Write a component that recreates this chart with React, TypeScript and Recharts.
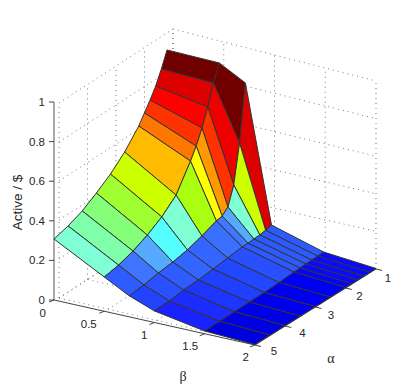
import { Scatter, ScatterChart, XAxis, YAxis } from 'recharts';

// ---------------------------------------------------------------------------
// Data
// ---------------------------------------------------------------------------

const ALPHA = [5, 4.5, 4, 3.5, 3, 2.5, 2, 1.8, 1.6, 1.4, 1.2, 1];
const BETA = [0, 0.5, 0.75, 1, 1.5, 2];

const Z_BETA_0 = [0.308, 0.327, 0.356, 0.4, 0.449, 0.514, 0.599, 0.647, 0.694, 0.747, 0.815, 0.893];
const Z_BETA_05 = [0.174, 0.187, 0.211, 0.245, 0.29, 0.354, 0.481, 0.539, 0.613, 0.702, 0.807, 0.891];
const Z_BETA_075 = [0.107, 0.115, 0.128, 0.136, 0.15, 0.174, 0.203, 0.209, 0.236, 0.331, 0.529, 0.82];
const Z_BETA_1 = [0.059, 0.062, 0.07, 0.073, 0.081, 0.089, 0.098, 0.098, 0.1, 0.102, 0.106, 0.114];
const Z_BETA_15 = [0.014, 0.016, 0.016, 0.017, 0.018, 0.02, 0.026, 0.027, 0.028, 0.029, 0.03, 0.031];
const Z_BETA_2 = [0.002, 0.002, 0.002, 0.002, 0.002, 0.002, 0.002, 0.002, 0.002, 0.002, 0.002, 0.003];
const Z_ROWS = [Z_BETA_0, Z_BETA_05, Z_BETA_075, Z_BETA_1, Z_BETA_15, Z_BETA_2];

const ALPHA_TICKS = [5, 4, 3, 2, 1];
const BETA_TICKS = [0, 0.5, 1, 1.5, 2];
const Z_TICKS = [0, 0.2, 0.4, 0.6, 0.8, 1];

// flat face colours, one strip per beta interval, alpha 5 -> 1
const FACES_0 = ['#7fffd4', '#7fffaa', '#85ff7a', '#a0ff30', '#ccff00', '#ffbb00', '#ff7700', '#ff3300', '#ff0000', '#dd0000', '#700000'];
const FACES_1 = ['#2f5cff', '#3f74ff', '#55aaff', '#55ffff', '#7fffd4', '#aaff11', '#ffff00', '#ff9900', '#ff3300', '#ee0000', '#700000'];
const FACES_2 = ['#2244ff', '#2a50ff', '#2f5cff', '#3366ff', '#3366ff', '#3a70ff', '#3f78ff', '#55aaff', '#7fffd4', '#ccff00', '#dd0000'];
const FACES_3 = ['#1a22ff', '#1c2cff', '#1e34ff', '#2040ff', '#2248ff', '#2850ff', '#2c5aff', '#2c5aff', '#2c5aff', '#2c5aff', '#2c5aff'];
const FACES_4 = ['#0000dd', '#0000e0', '#0000e6', '#0000ea', '#0000ee', '#0000f2', '#0404f6', '#0808fa', '#0a0aff', '#0a0aff', '#0a0aff'];
const FACES = [FACES_0, FACES_1, FACES_2, FACES_3, FACES_4];

// ---------------------------------------------------------------------------
// Projection: the 3D box is fixed by where its 8 corners land on the page
// ---------------------------------------------------------------------------

type Pt = { x: number; y: number };
type Corners = { base: number[][]; top: number[][] };

const WIDTH = 415;
const HEIGHT = 389;

const SURFACE_BOX: Corners = {
  base: [[54, 300], [255, 345], [376, 269], [167, 225]],
  top: [[54, 102], [255, 152], [376, 80], [167, 29]],
};
const GRID_BOX: Corners = {
  base: [[59, 298], [255, 343], [376, 269], [173, 224]],
  top: [[59, 103], [255, 150], [376, 81], [173, 29]],
};

function bilerp(c: number[][], u: number, v: number, k: number) {
  return (1 - v) * ((1 - u) * c[0][k] + u * c[1][k]) + v * ((1 - u) * c[3][k] + u * c[2][k]);
}

function project(box: Corners, beta: number, alpha: number, z: number): Pt {
  const u = beta / 2;
  const v = (5 - alpha) / 4;
  return {
    x: (1 - z) * bilerp(box.base, u, v, 0) + z * bilerp(box.top, u, v, 0),
    y: (1 - z) * bilerp(box.base, u, v, 1) + z * bilerp(box.top, u, v, 1),
  };
}

const lerp = (a: Pt, b: Pt, t: number): Pt => ({ x: a.x + (b.x - a.x) * t, y: a.y + (b.y - a.y) * t });

// ---------------------------------------------------------------------------
// Marks
// ---------------------------------------------------------------------------

function NoDot() {
  return null;
}

function segment(key: string, data: Pt[], stroke: string, strokeWidth: number, dash?: string) {
  return (
    <Scatter
      key={key}
      data={data}
      shape={NoDot}
      isAnimationActive={false}
      line={{ stroke, strokeWidth, strokeDasharray: dash, fill: 'none' }}
    />
  );
}

function face(key: string, data: Pt[], fill: string) {
  const draw = (p: any) => (
    <polygon
      points={p.points.map((q: Pt) => `${q.x},${q.y}`).join(' ')}
      fill={fill}
      stroke="#333"
      strokeWidth={1}
      strokeLinejoin="round"
    />
  );
  return <Scatter key={key} data={data} shape={NoDot} isAnimationActive={false} line={draw} />;
}

function labels(key: string, data: (Pt & { text: string })[], anchor: string, fontSize = 11.5, family = 'Liberation Sans', rotate = 0) {
  const Label = (p: any) => (
    <text
      x={p.cx}
      y={p.cy}
      textAnchor={anchor}
      dominantBaseline="central"
      fontFamily={family}
      fontSize={fontSize}
      fill="#262626"
      transform={rotate ? `rotate(${rotate} ${p.cx} ${p.cy})` : undefined}
    >
      {p.payload.text}
    </text>
  );
  return <Scatter key={key} data={data} shape={Label} isAnimationActive={false} />;
}

const DOT = '1 4';
const DOT_COLOR = '#555';

const gridLines = [
  ...ALPHA_TICKS.map(a => segment(`wall-a${a}`, [project(GRID_BOX, 0, a, 0), project(GRID_BOX, 0, a, 1)], DOT_COLOR, 0.8, DOT)),
  ...Z_TICKS.map(z => segment(`wall-z${z}`, [project(GRID_BOX, 0, 5, z), project(GRID_BOX, 0, 1, z)], DOT_COLOR, 0.8, DOT)),
  ...BETA_TICKS.map(b => segment(`back-b${b}`, [project(GRID_BOX, b, 1, 0), project(GRID_BOX, b, 1, 1)], DOT_COLOR, 0.8, DOT)),
  ...Z_TICKS.map(z => segment(`back-z${z}`, [project(GRID_BOX, 0, 1, z), project(GRID_BOX, 2, 1, z)], DOT_COLOR, 0.8, DOT)),
  ...ALPHA_TICKS.map(a => segment(`floor-a${a}`, [project(GRID_BOX, 0, a, 0), project(GRID_BOX, 2, a, 0)], DOT_COLOR, 0.8, DOT)),
  ...BETA_TICKS.map(b => segment(`floor-b${b}`, [project(GRID_BOX, b, 5, 0), project(GRID_BOX, b, 1, 0)], DOT_COLOR, 0.8, DOT)),
];

const tickShift = (p: Pt, dx: number, dy: number): Pt => ({ x: p.x + dx, y: p.y + dy });

const axisLines = [
  segment('axis-z', [project(SURFACE_BOX, 0, 5, 0), project(SURFACE_BOX, 0, 5, 1)], '#8c8c8c', 1.5),
  segment('axis-b', [project(SURFACE_BOX, 0, 5, 0), project(SURFACE_BOX, 2, 5, 0)], '#444', 1),
  segment('axis-a', [project(SURFACE_BOX, 2, 5, 0), project(SURFACE_BOX, 2, 1, 0)], '#444', 1),
  ...Z_TICKS.map(z => {
    const p = project(SURFACE_BOX, 0, 5, z);
    return segment(`tick-z${z}`, [p, tickShift(p, -5, 0)], '#444', 1);
  }),
  ...BETA_TICKS.map(b => {
    const p = project(SURFACE_BOX, b, 5, 0);
    return segment(`tick-b${b}`, [p, tickShift(p, -5, 2)], '#444', 1);
  }),
  ...ALPHA_TICKS.map(a => {
    const p = project(SURFACE_BOX, 2, a, 0);
    return segment(`tick-a${a}`, [p, tickShift(p, 6, 1.5)], '#444', 1);
  }),
];

// back to front: alpha 1 first, beta 0 first
const surfaceFaces: JSX.Element[] = [];
for (let i = ALPHA.length - 2; i >= 0; i--) {
  for (let j = 0; j < BETA.length - 1; j++) {
    const corners = [
      project(SURFACE_BOX, BETA[j], ALPHA[i], Z_ROWS[j][i]),
      project(SURFACE_BOX, BETA[j + 1], ALPHA[i], Z_ROWS[j + 1][i]),
      project(SURFACE_BOX, BETA[j + 1], ALPHA[i + 1], Z_ROWS[j + 1][i + 1]),
      project(SURFACE_BOX, BETA[j], ALPHA[i + 1], Z_ROWS[j][i + 1]),
    ];
    surfaceFaces.push(face(`face-${j}-${i}`, corners, FACES[j][i]));
  }
}

const zTickLabels = Z_TICKS.map(z => ({ ...tickShift(project(SURFACE_BOX, 0, 5, z), -9, 0), text: String(z) }));
const betaTickLabels = BETA_TICKS.map(b => ({ ...lerp({ x: 46, y: 313 }, { x: 249, y: 357 }, b / 2), text: String(b) }));
const alphaTickLabels = ALPHA_TICKS.map(a => ({ ...lerp({ x: 274, y: 351 }, { x: 388, y: 278 }, (5 - a) / 4), text: String(a) }));

export default function App() {
  return (
    <div style={{ position: 'absolute', left: 0, top: 0, width: WIDTH, height: HEIGHT, background: '#fff' }}>
      <ScatterChart width={WIDTH} height={HEIGHT} margin={{ top: 0, right: 0, bottom: 0, left: 0 }}>
        <XAxis type="number" dataKey="x" domain={[0, WIDTH]} hide />
        <YAxis type="number" dataKey="y" domain={[0, HEIGHT]} reversed hide />
        {gridLines}
        {axisLines}
        {surfaceFaces}
        {labels('labels-z', zTickLabels, 'end')}
        {labels('labels-b', betaTickLabels, 'end')}
        {labels('labels-a', alphaTickLabels, 'middle')}
        {labels('title-z', [{ x: 17, y: 202.5, text: 'Active / $' }], 'middle', 13.5, 'Liberation Sans', -90)}
        {labels('title-b', [{ x: 183, y: 376, text: 'β' }], 'middle', 14, 'Liberation Serif')}
        {labels('title-a', [{ x: 331, y: 358, text: 'α' }], 'middle', 14, 'Liberation Serif')}
      </ScatterChart>
    </div>
  );
}
